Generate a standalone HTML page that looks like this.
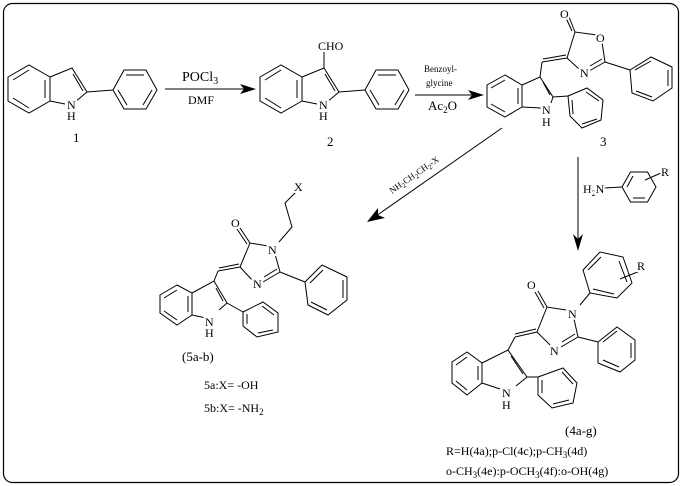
<!DOCTYPE html>
<html><head><meta charset="utf-8"><style>
html,body{margin:0;padding:0;background:#fff;}
svg{display:block;font-family:"Liberation Serif",serif;}
text{fill:#000;}
.a{stroke:#fff;stroke-width:4px;paint-order:stroke;stroke-linejoin:round;}
</style></head><body>
<svg width="682" height="486" viewBox="0 0 682 486" xmlns="http://www.w3.org/2000/svg">
<rect x="3.5" y="3.5" width="675" height="479" rx="9" fill="none" stroke="#000" stroke-width="1.2"/>
<g fill="none" stroke="#000" stroke-width="1">
<polygon points="8,77 29,65 50,77 50,101 29,113 8,101"/>
<line x1="13" y1="80" x2="29" y2="70"/><line x1="13" y1="98" x2="29" y2="108"/><line x1="45" y1="80" x2="45" y2="98"/>
<polyline points="50,77 72,68 87,92 75,102"/><line x1="50" y1="101" x2="65" y2="104"/>
<line x1="73" y1="74" x2="83" y2="91"/>
<line x1="87" y1="92" x2="113" y2="90"/>
<polygon points="113,90 124,70 146,70 157,90 146,109 124,109"/>
<line x1="126" y1="75" x2="144" y2="75"/><line x1="152" y1="90" x2="143" y2="105"/><line x1="118" y1="90" x2="127" y2="105"/>
<line x1="165" y1="89" x2="247" y2="89"/>
<g transform="translate(252,0)">
<polygon points="8,77 29,65 50,77 50,101 29,113 8,101"/>
<line x1="13" y1="80" x2="29" y2="70"/><line x1="13" y1="98" x2="29" y2="108"/><line x1="45" y1="80" x2="45" y2="98"/>
<polyline points="50,77 72,68 87,92 75,102"/><line x1="50" y1="101" x2="65" y2="104"/>
<line x1="73" y1="74" x2="83" y2="91"/>
<line x1="87" y1="92" x2="113" y2="90"/>
<polygon points="113,90 124,70 146,70 157,90 146,109 124,109"/>
<line x1="126" y1="75" x2="144" y2="75"/><line x1="152" y1="90" x2="143" y2="105"/><line x1="118" y1="90" x2="127" y2="105"/>
<line x1="72" y1="68" x2="72" y2="52"/>
</g>
<line x1="415" y1="95" x2="475" y2="95"/>
<polygon points="505,75 487,85 487,107 505,117 522,107 522,85"/>
<line x1="491" y1="88" x2="505" y2="80"/><line x1="491" y1="104" x2="505" y2="112"/><line x1="518" y1="88" x2="518" y2="104"/>
<polyline points="522,85 540,77 553,97 551,103"/><line x1="522" y1="107" x2="541" y2="108"/>
<line x1="543" y1="82" x2="550" y2="95"/>
<line x1="540" y1="77" x2="542" y2="62"/>
<line x1="542" y1="62" x2="567" y2="58"/><line x1="543" y1="59" x2="566" y2="55"/>
<polyline points="567,58 575,32 597,35"/><line x1="602" y1="42" x2="605" y2="62"/>
<line x1="605" y1="62" x2="589" y2="71"/><line x1="602" y1="59" x2="590" y2="66"/>
<line x1="579" y1="69" x2="567" y2="58"/>
<line x1="575" y1="32" x2="569" y2="17"/><line x1="572" y1="31" x2="566" y2="18"/>
<line x1="605" y1="62" x2="630" y2="70"/>
<polygon points="630,70 651,57 672,67 672,88 653,101 632,93"/>
<line x1="635" y1="70" x2="651" y2="61"/><line x1="668" y1="70" x2="668" y2="86"/><line x1="636" y1="91" x2="652" y2="97"/>
<line x1="553" y1="97" x2="568" y2="96"/>
<polygon points="568,96 587,88 603,100 601,120 582,128 570,116"/>
<line x1="586" y1="92" x2="599" y2="101"/><line x1="597" y1="119" x2="582" y2="124"/><line x1="572" y1="100" x2="573" y2="114"/>
<line x1="578" y1="157" x2="578" y2="242"/>
<line x1="604" y1="188" x2="622" y2="187"/>
<polygon points="622,187 630.5,172 647.5,172 656,187 647.5,202 630.5,202"/>
<line x1="627" y1="187" x2="633" y2="176"/><line x1="645" y1="198" x2="633" y2="198"/>
<line x1="645" y1="180" x2="661" y2="173"/>
<line x1="502" y1="128" x2="376" y2="216"/>
<polygon points="177,285 160,295 160,313 177,325 192,315 192,293"/>
<line x1="164" y1="298" x2="177" y2="290"/><line x1="164" y1="311" x2="177" y2="320"/><line x1="188" y1="296" x2="188" y2="312"/>
<polyline points="192,293 214,281 227,303 219,310"/><line x1="192" y1="315" x2="206" y2="318"/>
<line x1="216" y1="288" x2="223" y2="301"/>
<line x1="214" y1="281" x2="218" y2="271"/>
<line x1="218" y1="271" x2="240" y2="267"/><line x1="219" y1="268" x2="239" y2="264"/>
<polyline points="240,267 250,243 268,246"/><line x1="275" y1="254" x2="280" y2="272"/>
<line x1="280" y1="272" x2="263" y2="282"/><line x1="277" y1="269" x2="264" y2="277"/>
<line x1="253" y1="281" x2="240" y2="267"/>
<line x1="250" y1="243" x2="240" y2="228"/><line x1="247" y1="244" x2="237" y2="229"/>
<polyline points="279,242 292,227 285,203 296,192"/>
<line x1="280" y1="272" x2="305" y2="282"/>
<polygon points="305,282 322,265 347,277 347,300 328,315 308,305"/>
<line x1="310" y1="283" x2="323" y2="270"/><line x1="343" y1="280" x2="343" y2="298"/><line x1="311" y1="302" x2="327" y2="310"/>
<line x1="227" y1="303" x2="243" y2="312"/>
<polygon points="243,312 263,302 278,313 278,332 257,337 243,326"/>
<line x1="262" y1="306" x2="274" y2="315"/><line x1="273" y1="330" x2="258" y2="333"/><line x1="247" y1="314" x2="247" y2="324"/>
<polygon points="467,352 452,362 452,383 467,395 482,383 482,363"/>
<line x1="456" y1="365" x2="467" y2="357"/><line x1="456" y1="381" x2="467" y2="390"/><line x1="478" y1="366" x2="478" y2="380"/>
<polyline points="482,363 508,350 527,377 516,386"/><line x1="482" y1="383" x2="500" y2="389"/>
<line x1="511" y1="356" x2="523" y2="374"/>
<line x1="508" y1="350" x2="515" y2="337"/>
<line x1="515" y1="337" x2="537" y2="332"/><line x1="515" y1="334" x2="536" y2="329"/>
<polyline points="537,332 547,307 566,310"/><line x1="574" y1="319" x2="578" y2="337"/>
<line x1="578" y1="337" x2="561" y2="347"/><line x1="575" y1="334" x2="562" y2="342"/>
<line x1="550" y1="345" x2="537" y2="332"/>
<line x1="547" y1="307" x2="538" y2="291"/><line x1="544" y1="308" x2="535" y2="292"/>
<line x1="578" y1="337" x2="598" y2="342"/>
<polygon points="598,342 617,327 635,340 635,360 620,372 598,363"/>
<line x1="603" y1="342" x2="617" y2="331"/><line x1="631" y1="343" x2="631" y2="358"/><line x1="603" y1="360" x2="619" y2="367"/>
<line x1="527" y1="377" x2="538" y2="377"/>
<polygon points="538,377 563,368 577,383 573,403 552,408 538,395"/>
<line x1="562" y1="372" x2="573" y2="384"/><line x1="569" y1="400" x2="553" y2="404"/><line x1="542" y1="380" x2="542" y2="393"/>
<line x1="580" y1="305" x2="590" y2="293"/>
<polygon points="590,293 583,270 600,252 623,257 632,283 617,298"/>
<line x1="588" y1="270" x2="601" y2="257"/><line x1="627" y1="282" x2="619" y2="261"/><line x1="593" y1="289" x2="614" y2="294"/>
<line x1="620" y1="279" x2="640" y2="271"/>
</g>
<polygon points="256,89 240,84 244,89 240,94" fill="#000"/>
<polygon points="484,95 468,90 472,95 468,100" fill="#000"/>
<polygon points="578,251 573,234 578,239 583,234" fill="#000"/>
<polygon points="367,222 378,208 378,215 385,218" fill="#000"/>
<g font-size="13">
<text class="a" x="67" y="109" font-size="12">N</text><text class="a" x="67" y="120" font-size="12">H</text>
<text x="73" y="142">1</text>
<text x="182" y="81" font-size="14">POCl<tspan font-size="10" dy="3">3</tspan></text>
<text x="188" y="104" font-size="12">DMF</text>
<text class="a" x="319" y="109" font-size="12">N</text><text class="a" x="319" y="120" font-size="12">H</text>
<text class="a" x="318" y="50" font-size="12">CHO</text>
<text x="327" y="146">2</text>
<text x="424" y="72" font-size="9">Benzoyl-</text>
<text x="426" y="86" font-size="9">glycine</text>
<text x="428" y="110" font-size="13">Ac<tspan font-size="9" dy="3">2</tspan><tspan dy="-3">O</tspan></text>
<text class="a" x="560" y="18" font-size="12">O</text>
<text class="a" x="596" y="42" font-size="12">O</text>
<text class="a" x="580" y="77" font-size="12">N</text>
<text class="a" x="542" y="114" font-size="12">N</text><text class="a" x="542" y="126" font-size="12">H</text>
<text x="600" y="146">3</text>
<text class="a" x="583" y="193" font-size="12">H<tspan font-size="8" dy="3">2</tspan><tspan dy="-3">N</tspan></text>
<text class="a" x="661" y="176" font-size="12">R</text>
<text x="0" y="0" font-size="9" transform="translate(392,194) rotate(-35)">NH<tspan font-size="7" dy="2">2</tspan><tspan dy="-2">CH</tspan><tspan font-size="7" dy="2">2</tspan><tspan dy="-2">CH</tspan><tspan font-size="7" dy="2">2</tspan><tspan dy="-2">-X</tspan></text>
<text class="a" x="294" y="191" font-size="12">X</text>
<text class="a" x="231" y="227" font-size="12">O</text>
<text class="a" x="268" y="254" font-size="12">N</text>
<text class="a" x="253" y="288" font-size="12">N</text>
<text class="a" x="205" y="326" font-size="12">N</text><text class="a" x="205" y="337" font-size="12">H</text>
<text x="182" y="361">(5a-b)</text>
<text x="204" y="389" font-size="12">5a:X= -OH</text>
<text x="204" y="412" font-size="12">5b:X= -NH<tspan font-size="9" dy="3">2</tspan></text>
<text class="a" x="527" y="289" font-size="12">O</text>
<text class="a" x="568" y="318" font-size="12">N</text>
<text class="a" x="550" y="355" font-size="12">N</text>
<text class="a" x="502" y="397" font-size="12">N</text><text class="a" x="502" y="409" font-size="12">H</text>
<text class="a" x="637" y="270" font-size="12">R</text>
<text x="565" y="435">(4a-g)</text>
<text x="446" y="455" font-size="12">R=H(4a);p-Cl(4c);p-CH<tspan font-size="9" dy="3">3</tspan><tspan dy="-3">(4d)</tspan></text>
<text x="446" y="475" font-size="12">o-CH<tspan font-size="9" dy="3">3</tspan><tspan dy="-3">(4e):p-OCH</tspan><tspan font-size="9" dy="3">3</tspan><tspan dy="-3">(4f):o-OH(4g)</tspan></text>
</g>
</svg>
</body></html>
